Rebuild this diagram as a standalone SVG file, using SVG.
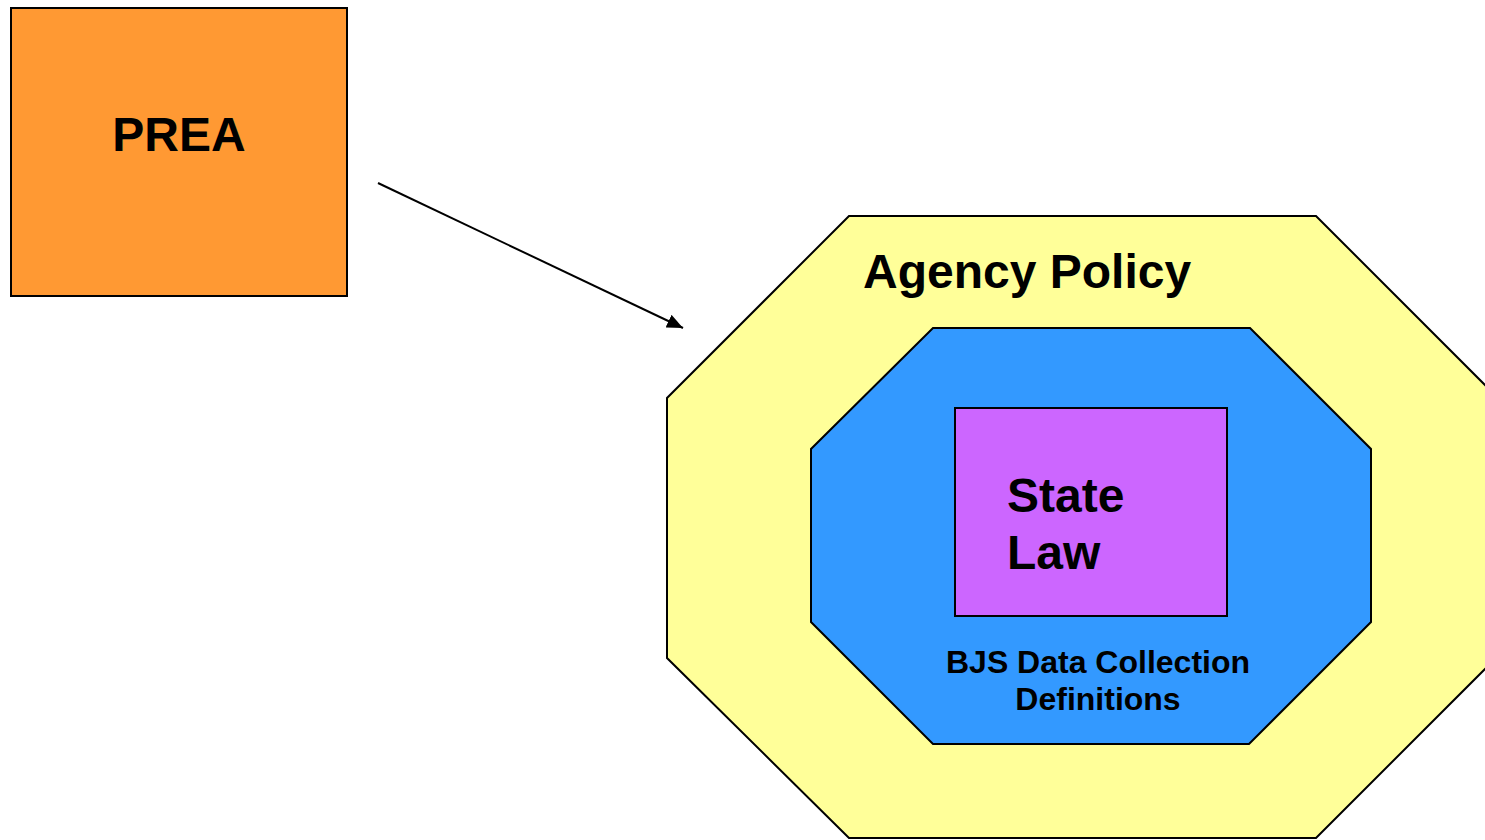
<svg xmlns="http://www.w3.org/2000/svg" width="1485" height="840" viewBox="0 0 1485 840">
<style>
.lbl{font-family:"Liberation Sans",Arial,sans-serif;font-weight:bold;fill:#000}
.shape{stroke:#000;stroke-width:2}
</style>
<defs>
<marker id="ah" markerWidth="16" markerHeight="14" refX="16" refY="7" orient="auto" markerUnits="userSpaceOnUse" viewBox="0 0 16 14">
<path d="M0,0 L16,7 L0,14 z" fill="#000"/>
</marker>
</defs>
<rect width="1485" height="840" fill="#fff"/>
<g id="prea">
<rect class="shape" x="11" y="8" width="336" height="288" fill="#FF9933"/>
<text class="lbl" x="179" y="151" font-size="48" text-anchor="middle">PREA</text>
</g>
<g id="agency-policy">
<polygon class="shape" points="849,216 1316,216 1498,398 1498,656 1316,838 849,838 667,658 667,398" fill="#FFFF99"/>
<text class="lbl" x="863" y="288" font-size="48">Agency Policy</text>
</g>
<g id="bjs">
<polygon class="shape" points="933,328 1250,328 1371,449 1371,622 1249,744 933,744 811,622 811,449" fill="#3399FF"/>
<text class="lbl" x="1098" y="673" font-size="32" text-anchor="middle">BJS Data Collection</text>
<text class="lbl" x="1098" y="710" font-size="32" text-anchor="middle">Definitions</text>
</g>
<g id="state-law">
<rect class="shape" x="955" y="408" width="272" height="208" fill="#CC66FF"/>
<text class="lbl" x="1007" y="512" font-size="48">State</text>
<text class="lbl" x="1007" y="569" font-size="48">Law</text>
</g>
<g id="connectors">
<line x1="378" y1="183" x2="683" y2="328" stroke="#000" stroke-width="2" marker-end="url(#ah)"/>
</g>
</svg>
